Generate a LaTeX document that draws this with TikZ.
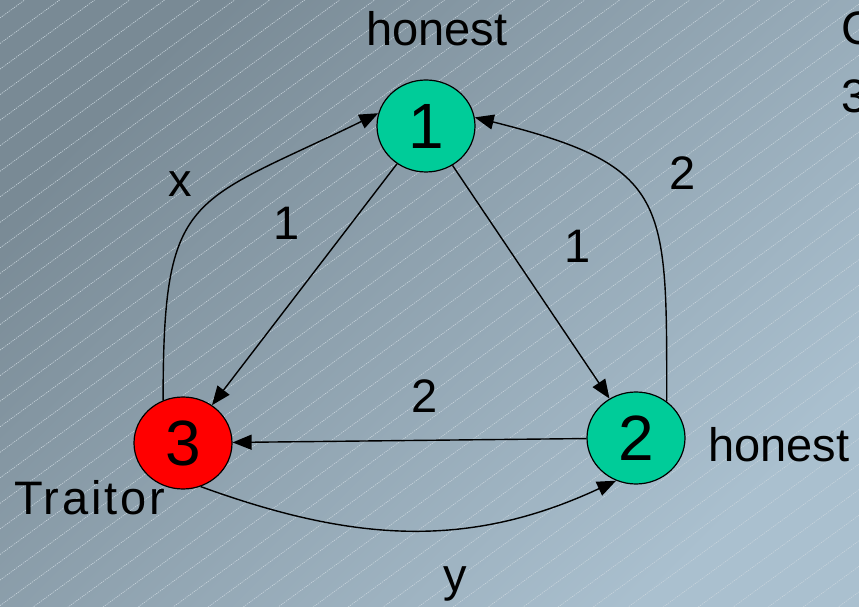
\documentclass[tikz,border=0pt]{standalone}
\usepackage{fontspec}
\setmainfont{Liberation Sans}
\usetikzlibrary{arrows.meta,shapes.geometric}
\definecolor{bgdark}{RGB}{121,138,149}
\definecolor{bglight}{RGB}{170,192,207}
\definecolor{hatchgray}{RGB}{200,212,220}
\definecolor{loyal}{RGB}{0,204,153}
\definecolor{traitor}{RGB}{255,0,0}

\begin{document}
\begin{tikzpicture}[x=1pt,y=1pt,
  gen/.style={ellipse,draw,line width=1.2pt,minimum width=98pt,minimum height=92pt,inner sep=0pt,font=\fontsize{64}{70}\selectfont},
  lbl/.style={font=\fontsize{47}{56}\selectfont,inner sep=0pt},
  msg/.style={-{Triangle[length=19pt,width=15pt]},line width=1.4pt},
  hatch/.style={hatchgray,line width=0.6pt,dash pattern=on 1.2pt off 1pt}]
  \useasboundingbox (0,0) rectangle (859,607);
  \begin{scope}
    \clip (0,0) rectangle (859,607);
    \shade[top color=bgdark,bottom color=bglight,shading angle=45] (0,0) rectangle (859,607);
    \foreach \k in {0,...,48} \draw[hatch] (0,{589-25.55*\k}) -- ++(859,627);
    \node[lbl,anchor=base west] (c1) at (841,562) {C};
    \node[lbl,anchor=base west] (c2) at (841,494) {3};
  \end{scope}
  \node[gen,fill=loyal] (g1) at (426,481) {1};
  \node[gen,fill=loyal] (g2) at (636,169) {2};
  \node[gen,fill=traitor] (g3) at (183,164) {3};
  \node[lbl,anchor=base] (h1) at (437,561) {honest};
  \node[lbl,anchor=base west] (h2) at (708,145) {honest};
  \node[lbl,anchor=base west] (tr) at (14,92) {\addfontfeature{LetterSpace=6}Traitor};
  \draw[msg] (g1) -- (g3);
  \draw[msg] (g1) -- (g2);
  \draw[msg] (g2) -- (g3);
  \draw[msg] (g3.115) to[out=90,in=206,looseness=1.5] (g1.165);
  \draw[msg] (g2.50) to[out=90,in=-14,looseness=1.5] (g1.10);
  \draw[msg] (g3.-68) to[out=-20,in=205] (g2.245);
  \node[lbl,anchor=base] (lx) at (180,410) {x};
  \node[lbl,anchor=base] (l13) at (287,367) {1};
  \node[lbl,anchor=base] (l12) at (578,344) {1};
  \node[lbl,anchor=base] (l21) at (683,417) {2};
  \node[lbl,anchor=base] (l23) at (425,194) {2};
  \node[lbl,anchor=base] (ly) at (455,15) {y};
\end{tikzpicture}
\end{document}
